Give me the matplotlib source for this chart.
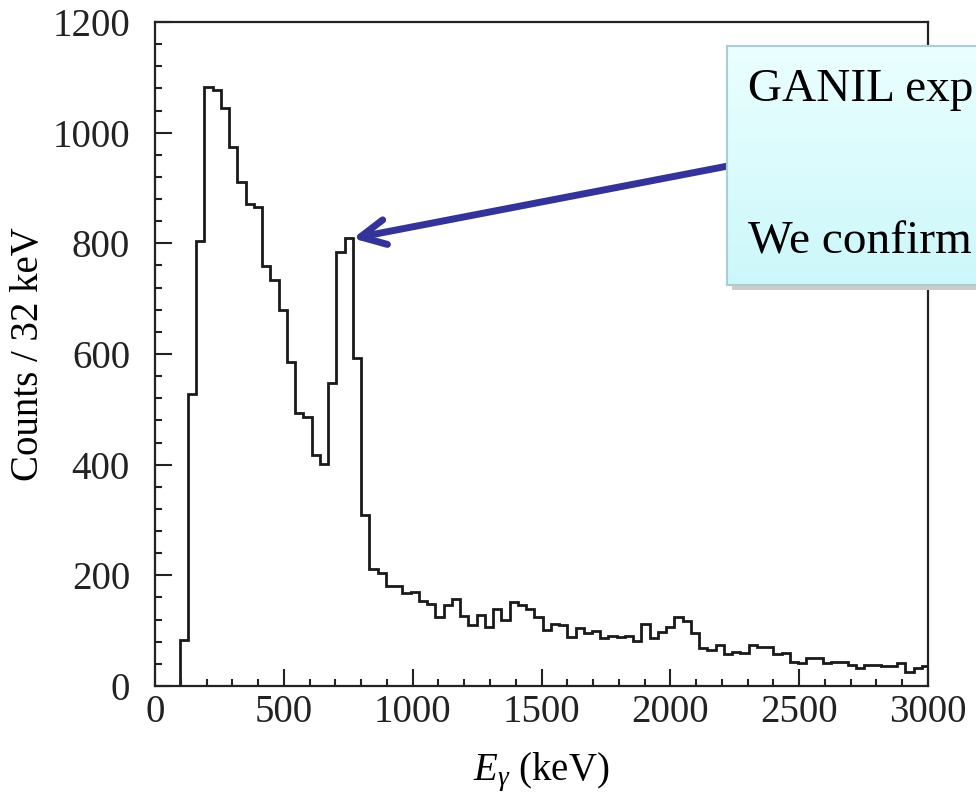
import numpy as np
import matplotlib
matplotlib.use('Agg')
import matplotlib.pyplot as plt
from matplotlib.patches import Rectangle
from matplotlib.ticker import MultipleLocator

# 32 keV bins, starting at 96 keV
bin_width = 32
first_edge = 96
counts = [84, 527, 804, 1083, 1078, 1044, 975, 910, 871, 865,
          759, 733, 680, 585, 493, 487, 417, 401, 548, 784,
          809, 592, 309, 211, 204, 181, 181, 168, 170, 154,
          148, 125, 146, 157, 127, 110, 128, 107, 139, 119,
          151, 146, 139, 125, 101, 112, 110, 88, 105, 96,
          99, 87, 90, 88, 90, 81, 112, 87, 98, 107,
          124, 118, 95, 68, 65, 74, 58, 62, 60, 74,
          70, 70, 58, 59, 43, 41, 50, 50, 41, 43,
          43, 38, 32, 38, 38, 36, 37, 41, 26, 32, 37]
edges = first_edge + bin_width * np.arange(len(counts) + 1)

peak_energy = 768
peak_counts = 809
box_lines = ["GANIL exp", "We confirm"]

plt.rcParams['font.family'] = 'Liberation Serif'
plt.rcParams['mathtext.fontset'] = 'custom'
plt.rcParams['mathtext.rm'] = 'Liberation Serif'
plt.rcParams['mathtext.it'] = 'Liberation Serif:italic'

fig = plt.figure(figsize=(9.76, 7.96), dpi=100)
ax = fig.add_axes([155/976, 1 - 686/796, 773/976, 664/796])

ax.stairs(counts, edges, baseline=0, color='#1a1a1a', lw=2)
ax.set_xlim(0, 3000)
ax.set_ylim(0, 1200)
ax.xaxis.set_major_locator(MultipleLocator(500))
ax.xaxis.set_minor_locator(MultipleLocator(100))
ax.yaxis.set_major_locator(MultipleLocator(200))
ax.yaxis.set_minor_locator(MultipleLocator(40))
ax.tick_params(which='both', direction='in', top=False, right=False,
               labelsize=28, width=1.5, colors='#222222')
ax.tick_params(which='major', length=12)
ax.tick_params(axis='x', which='major', pad=6)
ax.tick_params(axis='y', which='major', pad=18)
ax.tick_params(which='minor', length=5)
for s in ax.spines.values():
    s.set_linewidth(1.6)
    s.set_color('#222222')
ax.set_xlabel(r'$E_{\gamma}$ (keV)', fontsize=28, labelpad=14)
ax.set_ylabel('Counts / 32 keV', fontsize=28, labelpad=4)

# callout box (cut off at the right edge)
bx, by, bw, bh = 727, 46, 300, 239
fig.patches.append(Rectangle((bx + 5, 796 - by - bh - 5), bw, bh,
                             transform=None, facecolor='#cccccc',
                             edgecolor='none', zorder=5))
box_ax = fig.add_axes([bx/976, 1 - (by + bh)/796, bw/976, bh/796], zorder=6)
grad = np.linspace(0, 1, 100).reshape(-1, 1)
top_col = np.array([0.92, 1.0, 1.0])
bot_col = np.array([0.80, 0.97, 0.98])
img = top_col + grad[..., None] * (bot_col - top_col)
box_ax.imshow(img, aspect='auto', extent=[0, 1, 0, 1])
box_ax.set_xticks([])
box_ax.set_yticks([])
for s in box_ax.spines.values():
    s.set_color('#a9cfd3')
    s.set_linewidth(1.5)
fig.text(748/976, 1 - 101/796, box_lines[0], fontsize=34, color='black',
         zorder=7)
fig.text(748/976, 1 - 254/796, box_lines[1], fontsize=34, color='black',
         zorder=7)

ax.annotate('', xy=(peak_energy, peak_counts), xycoords='data',
            xytext=(728, 796 - 166), textcoords='figure pixels',
            arrowprops=dict(arrowstyle='->', color='#333399', lw=5,
                            mutation_scale=45, shrinkA=0, shrinkB=0),
            annotation_clip=False, zorder=8)

fig.savefig('out.png', dpi=100)
